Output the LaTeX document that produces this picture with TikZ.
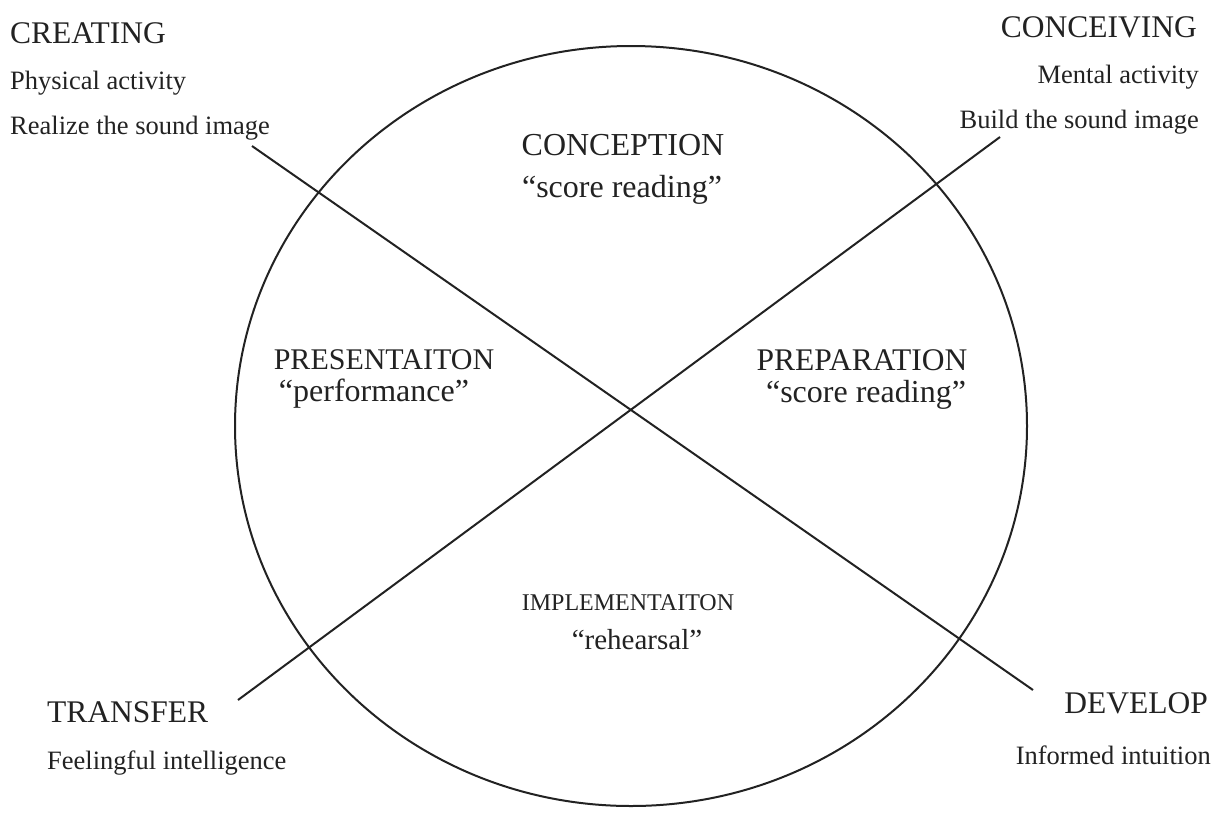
\documentclass[tikz,border=0pt]{standalone}
\usepackage{fontspec}
\setmainfont{Liberation Serif}
\usepackage{tikz}
\usetikzlibrary{positioning}

\definecolor{ink}{HTML}{222222}
\tikzset{
  head/.style = {inner sep=0pt, text=ink, font=\fontsize{31.5}{33}\selectfont},
  sub/.style = {inner sep=0pt, text=ink, font=\fontsize{26.5}{28}\selectfont},
  stage/.style = {inner sep=0pt, text=ink, font=\fontsize{31.5}{33}\selectfont},
  quote/.style = {inner sep=0pt, text=ink, font=\fontsize{32}{34}\selectfont},
  rim/.style = {draw=ink, line width=2pt}
}

\begin{document}
\begin{tikzpicture}[x=1pt, y=-1pt]
      \useasboundingbox (0, 0) rectangle (1216, 812);
      % the circle
      \coordinate (mid) at (631, 426);
      \draw [rim] (mid) ellipse [x radius=396, y radius=380];
      % corner labels
      \node [head, anchor=west] (creating) at (10, 33) {CREATING};
      \node [sub, anchor=west] (physical) at (10, 83) {Physical activity};
      \node [sub, anchor=west] (realize) at (10, 128) {Realize the sound image};
      \node [head, anchor=east] (conceiving) at (1197, 27) {CONCEIVING};
      \node [sub, anchor=east] (mental) at (1199, 77) {Mental activity};
      \node [sub, anchor=east] (build) at (1199, 122) {Build the sound image};
      \node [head, anchor=west] (transfer) at (47, 712) {TRANSFER};
      \node [sub, anchor=west] (feeling) at (47, 763) {Feelingful intelligence};
      \node [head, anchor=east] (develop) at (1208, 703) {DEVELOP};
      \node [sub, anchor=east] (informed) at (1211, 755) {Informed intuition};
      % the four stages
      \node [stage, font=\fontsize{32}{34}\selectfont] (conception) at (623, 145) {CONCEPTION};
      \node [quote] (conread) at (622, 190) {``score reading''};
      \node [stage, font=\fontsize{30}{32}\selectfont] (presentation) at (384, 360) {PRESENTAITON};
      \node [quote] (perform) at (374, 394) {``performance''};
      \node [stage] (preparation) at (862, 360) {PREPARATION};
      \node [quote] (prepread) at (866, 395) {``score reading''};
      \node [stage, font=\fontsize{24}{26}\selectfont] (implement) at (628, 603) {IMPLEMENTAITON};
      \node [quote, font=\fontsize{29}{31}\selectfont] (rehearse) at (637, 640) {``rehearsal''};
      % the two diagonals
      \coordinate (nw) at (252, 146);
      \coordinate (se) at (1033, 690);
      \coordinate (sw) at (238, 700);
      \coordinate (ne) at (1000, 137);
      \draw [rim] (nw) -- (se);
      \draw [rim] (sw) -- (ne);
    \end{tikzpicture}
\end{document}
